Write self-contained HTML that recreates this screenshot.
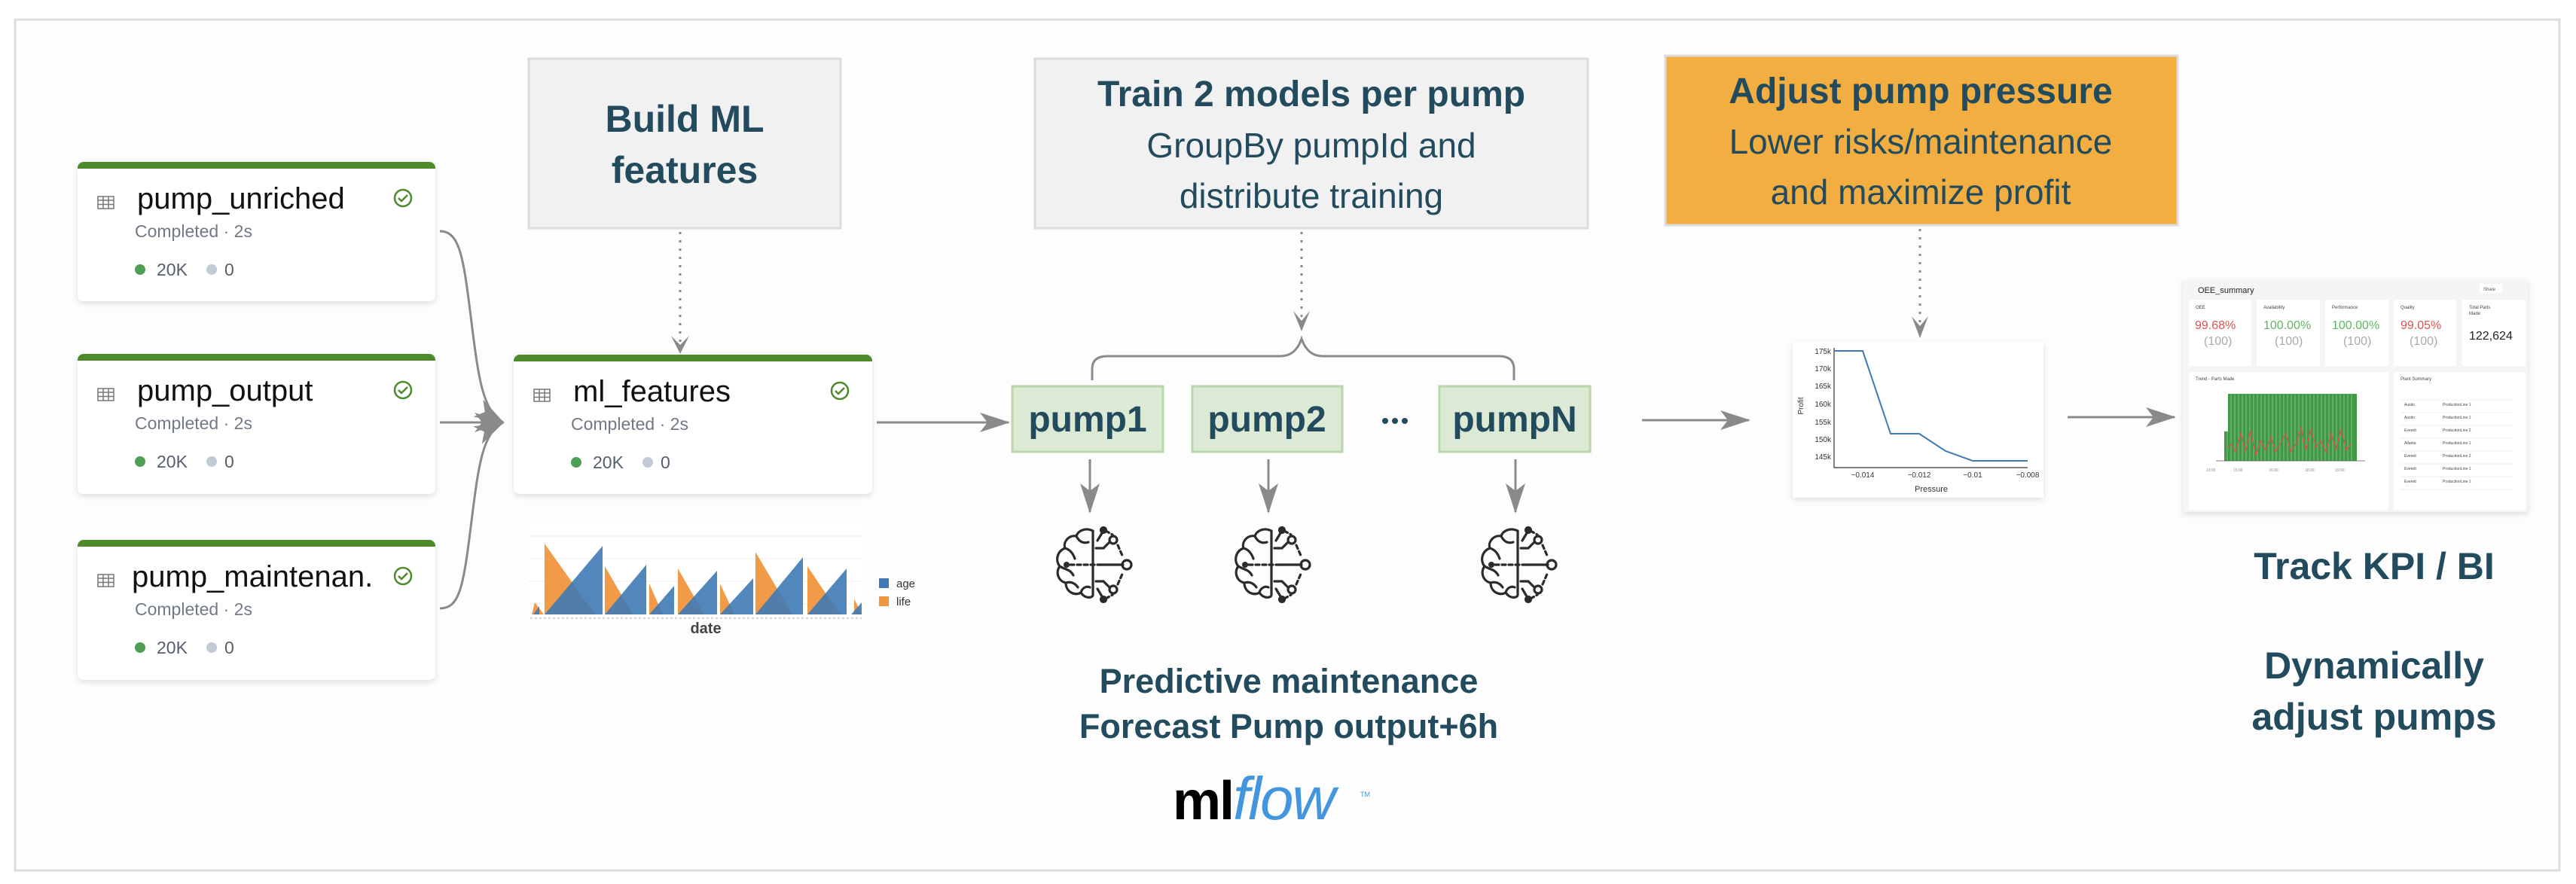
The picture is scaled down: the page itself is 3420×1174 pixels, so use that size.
<!DOCTYPE html>
<html><head><meta charset="utf-8"><style>
html,body{margin:0;padding:0;background:#fff;}
svg{display:block;}
text{font-family:"Liberation Sans",sans-serif;}
</style></head><body>
<svg width="3420" height="1174" viewBox="0 0 3420 1174" xmlns="http://www.w3.org/2000/svg">
<defs>
<marker id="ah" viewBox="0 0 20 20" refX="18" refY="10" markerWidth="20" markerHeight="20" markerUnits="userSpaceOnUse" orient="auto">
<path d="M0,2 L20,10 L0,18 L6,10 Z" fill="#8a8a8a"/></marker>
<marker id="ahb" viewBox="0 0 40 30" refX="38" refY="15" markerWidth="40" markerHeight="30" markerUnits="userSpaceOnUse" orient="auto">
<path d="M0,2 L40,15 L0,28 L10,15 Z" fill="#8a8a8a"/></marker>
<g id="brain" fill="none" stroke="#2b2b2b" stroke-width="3.2" stroke-linecap="round">
<path d="M0,-45 C-10,-50 -20,-45 -22,-38 C-32,-40 -40,-30 -37,-22 C-48,-18 -50,-5 -44,2 C-50,10 -46,22 -36,24 C-36,36 -24,42 -16,37 C-10,46 0,44 0,40 Z"/>
<path d="M-22,-38 C-18,-30 -12,-28 -6,-30 M-37,-22 C-30,-20 -26,-14 -24,-8 M-44,2 C-38,6 -30,6 -26,14 M-36,24 C-30,22 -24,24 -20,30 M-16,37 C-14,30 -8,28 -4,30"/>
<circle cx="-35" cy="0" r="4" fill="#2b2b2b" stroke="none"/>
<path d="M-30,0 H10" stroke-dasharray="5 4"/>
<path d="M10,0 H40"/>
<circle cx="45" cy="0" r="6"/>
<path d="M4,-22 H14 L22,-30"/><circle cx="27" cy="-33" r="5"/>
<path d="M4,22 H14 L22,30"/><circle cx="27" cy="33" r="5"/>
<path d="M6,-32 L12,-42"/><circle cx="14" cy="-46" r="3.5" fill="#2b2b2b"/>
<path d="M6,32 L12,42"/><circle cx="14" cy="46" r="3.5" fill="#2b2b2b"/>
<path d="M17,-45 L26,-40 M33,-26 L40,-10 M17,45 L26,40 M33,26 L40,10" stroke-dasharray="5 4"/>
</g>
<g id="tbl" fill="none" stroke="#777" stroke-width="1.5"><rect x="0" y="0" width="21" height="16"/><path d="M0,5 H21 M0,10.5 H21 M7,0 V16 M14,0 V16"/></g>
<filter id="sh" x="-10%" y="-10%" width="120%" height="130%"><feDropShadow dx="0" dy="3" stdDeviation="4" flood-color="#000" flood-opacity="0.12"/></filter>
</defs>

<rect x="0" y="0" width="3420" height="1174" fill="#fff"/>
<rect x="20" y="26" width="3378" height="1130" fill="#fdfdfd" stroke="#dcdcdc" stroke-width="3"/>

<!-- cards -->
<g font-size="40" fill="#111">
<g transform="translate(103,215)">
<rect x="0" y="0" width="475" height="185" rx="8" fill="#fff" filter="url(#sh)"/>
<path d="M0,9 V8 a8,8 0 0 1 8,-8 H467 a8,8 0 0 1 8,8 V9 Z" fill="#4d8a2c"/>
<use href="#tbl" x="27" y="46"/>
<text x="79" y="62">pump_unriched</text>
<circle cx="432" cy="48" r="11" fill="none" stroke="#4d8a2c" stroke-width="2.5"/><path d="M426,48 l4,4 l8,-8" fill="none" stroke="#4d8a2c" stroke-width="2.5"/>
<text x="76" y="100" font-size="23" fill="#6f7a86">Completed · 2s</text>
<circle cx="83" cy="143" r="7" fill="#4f9e55"/><text x="105" y="151" font-size="23" fill="#555f6b">20K</text>
<circle cx="178" cy="143" r="7" fill="#c2cad6"/><text x="195" y="151" font-size="23" fill="#555f6b">0</text>
</g>
<g transform="translate(103,470)">
<rect x="0" y="0" width="475" height="186" rx="8" fill="#fff" filter="url(#sh)"/>
<path d="M0,9 V8 a8,8 0 0 1 8,-8 H467 a8,8 0 0 1 8,8 V9 Z" fill="#4d8a2c"/>
<use href="#tbl" x="27" y="46"/>
<text x="79" y="62">pump_output</text>
<circle cx="432" cy="48" r="11" fill="none" stroke="#4d8a2c" stroke-width="2.5"/><path d="M426,48 l4,4 l8,-8" fill="none" stroke="#4d8a2c" stroke-width="2.5"/>
<text x="76" y="100" font-size="23" fill="#6f7a86">Completed · 2s</text>
<circle cx="83" cy="143" r="7" fill="#4f9e55"/><text x="105" y="151" font-size="23" fill="#555f6b">20K</text>
<circle cx="178" cy="143" r="7" fill="#c2cad6"/><text x="195" y="151" font-size="23" fill="#555f6b">0</text>
</g>
<g transform="translate(103,717)">
<rect x="0" y="0" width="475" height="186" rx="8" fill="#fff" filter="url(#sh)"/>
<path d="M0,9 V8 a8,8 0 0 1 8,-8 H467 a8,8 0 0 1 8,8 V9 Z" fill="#4d8a2c"/>
<use href="#tbl" x="27" y="46"/>
<text x="72" y="62">pump_maintenan.</text>
<circle cx="432" cy="48" r="11" fill="none" stroke="#4d8a2c" stroke-width="2.5"/><path d="M426,48 l4,4 l8,-8" fill="none" stroke="#4d8a2c" stroke-width="2.5"/>
<text x="76" y="100" font-size="23" fill="#6f7a86">Completed · 2s</text>
<circle cx="83" cy="143" r="7" fill="#4f9e55"/><text x="105" y="151" font-size="23" fill="#555f6b">20K</text>
<circle cx="178" cy="143" r="7" fill="#c2cad6"/><text x="195" y="151" font-size="23" fill="#555f6b">0</text>
</g>
<g transform="translate(682,471)">
<rect x="0" y="0" width="476" height="185" rx="8" fill="#fff" filter="url(#sh)"/>
<path d="M0,9 V8 a8,8 0 0 1 8,-8 H468 a8,8 0 0 1 8,8 V9 Z" fill="#4d8a2c"/>
<use href="#tbl" x="27" y="46"/>
<text x="79" y="62">ml_features</text>
<circle cx="433" cy="48" r="11" fill="none" stroke="#4d8a2c" stroke-width="2.5"/><path d="M427,48 l4,4 l8,-8" fill="none" stroke="#4d8a2c" stroke-width="2.5"/>
<text x="76" y="100" font-size="23" fill="#6f7a86">Completed · 2s</text>
<circle cx="83" cy="143" r="7" fill="#4f9e55"/><text x="105" y="151" font-size="23" fill="#555f6b">20K</text>
<circle cx="178" cy="143" r="7" fill="#c2cad6"/><text x="195" y="151" font-size="23" fill="#555f6b">0</text>
</g>
</g>

<!-- converging arrows -->
<g fill="none" stroke="#8a8a8a" stroke-width="3">
<path d="M584,307 C610,307 615,340 625,420 C635,500 640,545 668,561" marker-end="url(#ahb)"/>
<path d="M584,561 H668" marker-end="url(#ahb)"/>
<path d="M584,808 C610,808 615,780 625,700 C635,620 640,575 668,561" marker-end="url(#ahb)"/>
</g>

<!-- Build ML box -->
<rect x="702" y="78" width="414" height="225" fill="#f1f1f1" stroke="#dcdcdc" stroke-width="3"/>
<g font-weight="bold" font-size="50" fill="#234b5e" text-anchor="middle">
<text x="909" y="175">Build ML</text><text x="909" y="243">features</text></g>
<path d="M903,308 V466" stroke="#8a8a8a" stroke-width="3" stroke-dasharray="3 8" fill="none"/>
<path d="M891,446 L903,470 L915,446 L903,458 Z" fill="#8a8a8a"/>

<!-- area chart -->
<g>
<rect x="702" y="696" width="442" height="125" fill="#fff"/>
<path d="M702,712 H1144 M702,742 H1144 M702,772 H1144 M702,802 H1144" stroke="#eee" stroke-width="1"/>
<g fill="#f0963e" opacity="0.95">
<path d="M706,816 L710,800 L722,816 Z M723,816 L723,722 L790,816 Z M803,816 L803,752 L840,816 Z M862,816 L862,775 L880,816 Z M900,816 L900,755 L935,816 Z M956,816 L956,775 L975,816 Z M1003,816 L1003,733 L1052,816 Z M1072,816 L1072,752 L1115,816 Z M1134,816 L1134,795 L1144,816 Z"/>
</g>
<g fill="#3f7ab5" opacity="0.9">
<path d="M708,816 L716,805 L716,816 Z M723,816 L800,725 L800,816 Z M803,816 L858,750 L858,816 Z M862,816 L895,778 L895,816 Z M900,816 L952,758 L952,816 Z M956,816 L1000,768 L1000,816 Z M1003,816 L1066,740 L1066,816 Z M1072,816 L1124,755 L1124,816 Z M1130,816 L1144,800 L1144,816 Z"/>
</g>
<path d="M704,821 H1144" stroke="#aaa" stroke-width="1" stroke-dasharray="3 3"/>
<text x="937" y="841" font-size="20" font-weight="bold" fill="#444" text-anchor="middle">date</text>
<rect x="1167" y="768" width="13" height="13" fill="#3f7ab5"/><text x="1190" y="780" font-size="15" fill="#333">age</text>
<rect x="1167" y="792" width="13" height="13" fill="#f0963e"/><text x="1190" y="804" font-size="15" fill="#333">life</text>
</g>

<!-- arrow to pumps -->
<path d="M1164,561 H1339" stroke="#8a8a8a" stroke-width="3" fill="none" marker-end="url(#ahb)"/>

<!-- Train box -->
<rect x="1374" y="78" width="734" height="225" fill="#f1f1f1" stroke="#dcdcdc" stroke-width="3"/>
<g fill="#234b5e" text-anchor="middle">
<text x="1741" y="141" font-size="48" font-weight="bold">Train 2 models per pump</text>
<text x="1741" y="209" font-size="46">GroupBy pumpId and</text>
<text x="1741" y="276" font-size="46">distribute training</text></g>
<path d="M1728,308 V432" stroke="#8a8a8a" stroke-width="3" stroke-dasharray="3 8" fill="none"/>
<path d="M1717,413 L1728,440 L1739,413 L1728,426 Z" fill="#8a8a8a"/>
<path d="M1450,505 V490 Q1450,473 1470,473 H1700 Q1720,473 1728,450 Q1736,473 1756,473 H1990 Q2010,473 2010,490 V505" fill="none" stroke="#8a8a8a" stroke-width="3"/>

<!-- pumps -->
<g font-weight="bold" font-size="48" fill="#234b5e" text-anchor="middle">
<rect x="1344" y="513" width="200" height="87" fill="#dce9d5" stroke="#b9d6aa" stroke-width="3"/><text x="1444" y="573">pump1</text>
<rect x="1583" y="513" width="199" height="87" fill="#dce9d5" stroke="#b9d6aa" stroke-width="3"/><text x="1682" y="573">pump2</text>
<rect x="1911" y="513" width="200" height="87" fill="#dce9d5" stroke="#b9d6aa" stroke-width="3"/><text x="2011" y="573">pumpN</text>
</g>
<g fill="#234b5e"><circle cx="1839" cy="559" r="4"/><circle cx="1852" cy="559" r="4"/><circle cx="1865" cy="559" r="4"/></g>
<g stroke="#8a8a8a" stroke-width="3" fill="none">
<path d="M1447,610 V680" marker-end="url(#ahb)"/>
<path d="M1684,610 V680" marker-end="url(#ahb)"/>
<path d="M2012,610 V680" marker-end="url(#ahb)"/>
</g>
<use href="#brain" transform="translate(1451,750)"/>
<use href="#brain" transform="translate(1688,750)"/>
<use href="#brain" transform="translate(2015,750)"/>

<g font-weight="bold" font-size="45" fill="#234b5e" text-anchor="middle">
<text x="1711" y="920">Predictive maintenance</text>
<text x="1711" y="980">Forecast Pump output+6h</text></g>
<text x="1557" y="1088" font-size="72" font-weight="bold" fill="#000" letter-spacing="-2">ml</text>
<text x="1637" y="1088" font-size="80" font-style="italic" fill="#4395dd" letter-spacing="-2">flow</text>
<text x="1806" y="1058" font-size="9" fill="#4395dd">TM</text>

<!-- right arrows -->
<path d="M2180,558 H2322" stroke="#8a8a8a" stroke-width="3" fill="none" marker-end="url(#ahb)"/>
<path d="M2745,554 H2887" stroke="#8a8a8a" stroke-width="3" fill="none" marker-end="url(#ahb)"/>

<!-- Orange box -->
<rect x="2211" y="74" width="680" height="225" fill="#f2ae40" stroke="#dcdcdc" stroke-width="3"/>
<g fill="#234b5e" text-anchor="middle">
<text x="2550" y="137" font-size="48" font-weight="bold">Adjust pump pressure</text>
<text x="2550" y="204" font-size="46">Lower risks/maintenance</text>
<text x="2550" y="271" font-size="46">and maximize profit</text></g>
<path d="M2549,304 V440" stroke="#8a8a8a" stroke-width="3" stroke-dasharray="3 8" fill="none"/>
<path d="M2538,420 L2549,449 L2560,420 L2549,433 Z" fill="#8a8a8a"/>

<!-- profit chart -->
<g>
<rect x="2380" y="454" width="333" height="207" fill="#fff" filter="url(#sh)"/>
<path d="M2435,462 V621 H2692" stroke="#333" stroke-width="1.2" fill="none"/>
<polyline points="2435,466 2473,466 2510,576 2548,576 2583,599 2619,612 2692,612" fill="none" stroke="#3f7ab5" stroke-width="2"/>
<g font-size="10" fill="#333" text-anchor="end">
<text x="2431" y="470">175k</text><text x="2431" y="493">170k</text><text x="2431" y="516">165k</text><text x="2431" y="540">160k</text><text x="2431" y="564">155k</text><text x="2431" y="587">150k</text><text x="2431" y="610">145k</text></g>
<g font-size="10" fill="#333" text-anchor="middle">
<text x="2473" y="634">−0.014</text><text x="2548" y="634">−0.012</text><text x="2619" y="634">−0.01</text><text x="2692" y="634">−0.008</text>
<text x="2564" y="653" font-size="11">Pressure</text></g>
<text transform="translate(2394,539) rotate(-90)" font-size="10" fill="#333" text-anchor="middle">Profit</text>
</g>

<!-- dashboard -->
<g>
<rect x="2898" y="372" width="458" height="308" fill="#f4f5f7" filter="url(#sh)"/>
<text x="2918" y="389" font-size="11" fill="#222">OEE_summary</text>
<rect x="3292" y="377" width="30" height="12" fill="#fff"/><text x="3297" y="386" font-size="6" fill="#555">Share</text>
<g font-size="6" fill="#444">
<rect x="2906" y="398" width="83" height="88" fill="#fff"/><text x="2915" y="410">OEE</text>
<text x="2914" y="437" font-size="16" fill="#d9534f">99.68%</text><text x="2926" y="458" font-size="16" fill="#aaa">(100)</text>
<rect x="2996" y="398" width="84" height="88" fill="#fff"/><text x="3005" y="410">Availability</text>
<text x="3005" y="437" font-size="16" fill="#5cb85c">100.00%</text><text x="3020" y="458" font-size="16" fill="#aaa">(100)</text>
<rect x="3087" y="398" width="84" height="88" fill="#fff"/><text x="3096" y="410">Performance</text>
<text x="3096" y="437" font-size="16" fill="#5cb85c">100.00%</text><text x="3111" y="458" font-size="16" fill="#aaa">(100)</text>
<rect x="3178" y="398" width="83" height="88" fill="#fff"/><text x="3187" y="410">Quality</text>
<text x="3187" y="437" font-size="16" fill="#d9534f">99.05%</text><text x="3199" y="458" font-size="16" fill="#aaa">(100)</text>
<rect x="3269" y="398" width="84" height="88" fill="#fff"/><text x="3278" y="410">Total Parts</text><text x="3278" y="418">Made</text>
<text x="3278" y="451" font-size="16" fill="#222">122,624</text>
<rect x="2906" y="494" width="265" height="183" fill="#fff"/><text x="2915" y="505">Trend - Parts Made</text>
<rect x="3178" y="494" width="175" height="183" fill="#fff"/><text x="3187" y="505">Plant Summary</text>
</g>
<rect x="2953" y="523" width="176" height="89" fill="#3f9a45"/>
<g stroke="#fff" stroke-width="0.6" opacity="0.6">
<path d="M2957,523V612M2962,523V612M2967,523V612M2972,523V612M2977,523V612M2982,523V612M2987,523V612M2992,523V612M2997,523V612M3002,523V612M3007,523V612M3012,523V612M3017,523V612M3022,523V612M3027,523V612M3032,523V612M3037,523V612M3042,523V612M3047,523V612M3052,523V612M3057,523V612M3062,523V612M3067,523V612M3072,523V612M3077,523V612M3082,523V612M3087,523V612M3092,523V612M3097,523V612M3102,523V612M3107,523V612M3112,523V612M3117,523V612M3122,523V612"/></g>
<rect x="2953" y="523" width="5" height="50" fill="#fff"/>
<polyline points="2955,595 2962,590 2968,600 2975,575 2981,600 2988,572 2995,605 3001,585 3008,598 3015,580 3021,600 3028,588 3035,575 3041,600 3048,590 3055,567 3061,598 3068,570 3075,595 3081,585 3088,600 3095,575 3101,598 3108,570 3115,598 3121,590" fill="none" stroke="#d9534f" stroke-width="1.2"/>
<path d="M2942,612 H3140" stroke="#555" stroke-width="0.8"/>
<g fill="#888" font-size="5"><text x="2929" y="626">13:00</text><text x="2965" y="626">15:00</text><text x="3012" y="626">16:00</text><text x="3060" y="626">18:00</text><text x="3100" y="626">19:00</text></g>
<g stroke="#eee" stroke-width="1"><path d="M3187,531H3336M3187,548H3336M3187,565H3336M3187,582H3336M3187,599H3336M3187,616H3336M3187,633H3336M3187,650H3336"/></g>
<g font-size="5" fill="#444"><text x="3192" y="539">Austin</text><text x="3243" y="539">ProductionLine 1</text><text x="3192" y="556">Austin</text><text x="3243" y="556">ProductionLine 1</text><text x="3192" y="573">Everett</text><text x="3243" y="573">ProductionLine 2</text><text x="3192" y="590">Atlanta</text><text x="3243" y="590">ProductionLine 1</text><text x="3192" y="607">Everett</text><text x="3243" y="607">ProductionLine 2</text><text x="3192" y="624">Everett</text><text x="3243" y="624">ProductionLine 1</text><text x="3192" y="641">Everett</text><text x="3243" y="641">ProductionLine 1</text></g>
</g>

<g font-weight="bold" font-size="50" fill="#234b5e" text-anchor="middle">
<text x="3152" y="769">Track KPI / BI</text>
<text x="3152" y="901">Dynamically</text>
<text x="3152" y="969">adjust pumps</text></g>
</svg>
</body></html>
